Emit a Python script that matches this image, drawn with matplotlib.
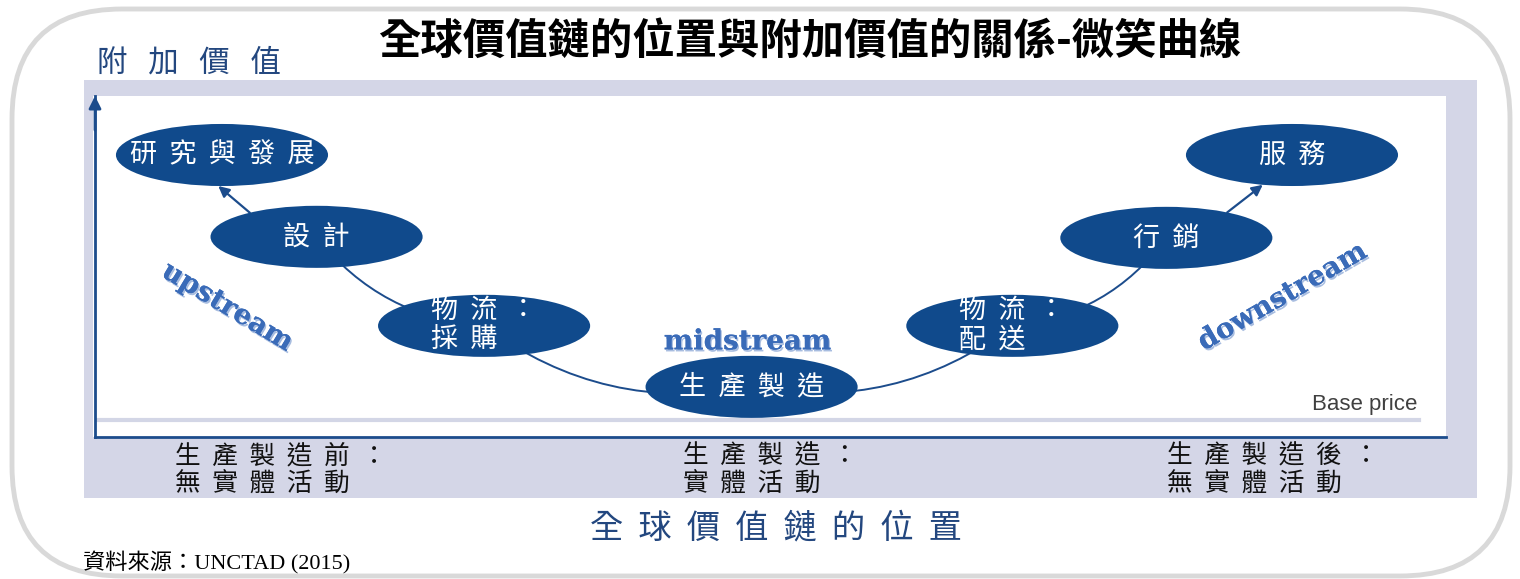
import numpy as np
import matplotlib
matplotlib.use('Agg')
import matplotlib.pyplot as plt
from matplotlib.patches import Ellipse, FancyBboxPatch, Rectangle
from matplotlib import patheffects

plt.rcParams['font.family'] = ['Noto Sans CJK TC', 'DejaVu Sans']

# Texts
title = '全球價值鏈的位置與附加價值的關係-微笑曲線'
y_label = '附加價值'
x_label = '全球價值鏈的位置'
source = '資料來源：UNCTAD (2015)'

# Smile curve: stage, position along the chain, value added (0-10 scale)
stages = ['研究與發展', '設計', '物流：\n採購', '生產製造', '物流：\n配送', '行銷', '服務']
chain_pos = [0.94, 1.64, 2.88, 4.86, 6.79, 7.93, 8.86]
value_added = [8.27, 5.87, 3.26, 1.47, 3.26, 5.84, 8.27]
base_price = 0.5

streams = ['upstream', 'midstream', 'downstream']
stream_x = [0.98, 4.83, 8.79]
stream_y = [3.81, 2.79, 4.11]
stream_angle = [-31, 0, 30]

phases = ['生產製造前：\n無實體活動', '生產製造：\n實體活動', '生產製造後：\n無實體活動']
phase_x = [175, 683, 1167]

# Colours
navy = '#104a8c'
axis_blue = '#1c4c8c'
title_blue = '#23477f'
stream_blue = '#3a6bb8'
lavender = '#d4d6e7'


def spaced(s, n=2):
    return '\n'.join((' ' * n).join(line) for line in s.split('\n'))


fig = plt.figure(figsize=(15.2, 5.79), dpi=100)

# Background canvas in pixel units
bg = fig.add_axes([0, 0, 1, 1])
bg.set_xlim(0, 1520)
bg.set_ylim(579, 0)
bg.axis('off')

bg.add_patch(FancyBboxPatch((12, 9), 1498, 567, boxstyle='round,pad=0,rounding_size=110',
                            fc='white', ec='#d9d9d9', lw=3.5))
bg.add_patch(Rectangle((84, 80), 1393, 418, fc=lavender, ec='none'))
bg.add_patch(Rectangle((93, 96), 1353, 341, fc='white', ec='none'))

bg.text(810, 42, title, fontsize=30.5, ha='center', va='center', color='black', weight='bold')
bg.text(97, 63, spaced(y_label, 3), fontsize=22, ha='left', va='center', color=title_blue)
bg.text(776, 528, spaced(x_label, 2), fontsize=24, ha='center', va='center', color=title_blue)
for px, label in zip(phase_x, phases):
    bg.text(px, 470, spaced(label, 2), fontsize=18.5, ha='left', va='center',
            color='#111111', linespacing=1.05)
bg.text(83, 563, source, fontsize=16, ha='left', va='center', color='black',
        family=['Liberation Serif', 'Noto Sans CJK TC'])

# Chart area
ax = fig.add_axes([95 / 1520, 1 - 437 / 579, 1351 / 1520, 341 / 579])
ax.set_xlim(0, 10)
ax.set_ylim(0, 10)
ax.patch.set_alpha(0)
ax.set_xticks([])
ax.set_yticks([])
for side in ['top', 'right']:
    ax.spines[side].set_visible(False)
for side in ['left', 'bottom']:
    ax.spines[side].set_color(axis_blue)
    ax.spines[side].set_linewidth(2)
ax.annotate('', xy=(0, 1.0), xytext=(0, 0.9), xycoords='axes fraction',
            arrowprops=dict(arrowstyle='-|>', mutation_scale=18, color=axis_blue,
                            lw=2, shrinkA=0, shrinkB=0))

ax.axhline(base_price, xmin=0.002, xmax=0.98, color='#d3d6e6', lw=3)
ax.text(9.79, 0.94, 'Base price', fontsize=16, ha='right', va='center',
        color='#404040', family='Liberation Sans')

ew, eh = 1.57, 1.82


def edge(i, deg):
    t = np.deg2rad(deg)
    return (chain_pos[i] + ew / 2 * np.cos(t), value_added[i] + eh / 2 * np.sin(t))


# curve between the middle stages
for a in range(1, 5):
    ax.annotate('', xy=(chain_pos[a + 1], value_added[a + 1]),
                xytext=(chain_pos[a], value_added[a]),
                arrowprops=dict(arrowstyle='-', color=axis_blue, lw=1.4,
                                connectionstyle='arc3,rad=0.22', shrinkA=0, shrinkB=0))

# arrows up to the top stages
for a, b, da, db in [(1, 0, 129, 268), (5, 6, 55, 254)]:
    ax.annotate('', xy=edge(b, db), xytext=edge(a, da),
                arrowprops=dict(arrowstyle='-|>', mutation_scale=16, color=axis_blue,
                                lw=1.6, shrinkA=0, shrinkB=0), zorder=2)

for x, y, label in zip(chain_pos, value_added, stages):
    ax.add_patch(Ellipse((x, y), ew, eh, fc=navy, ec='none', zorder=3))
    ax.text(x, y, spaced(label, 2), color='white', fontsize=19.5, ha='center', va='center',
            multialignment='left', linespacing=1.05, zorder=4)

shadow = [patheffects.withSimplePatchShadow(offset=(1, -1.5), shadow_rgbFace='#a8bde0', alpha=1),
          patheffects.Normal()]
for x, y, s, r in zip(stream_x, stream_y, streams, stream_angle):
    ax.text(x, y, s, rotation=r, rotation_mode='anchor', ha='center', va='center',
            fontsize=20, family='DejaVu Serif', weight='bold', color=stream_blue,
            path_effects=shadow)

fig.savefig('out.png', dpi=100)
